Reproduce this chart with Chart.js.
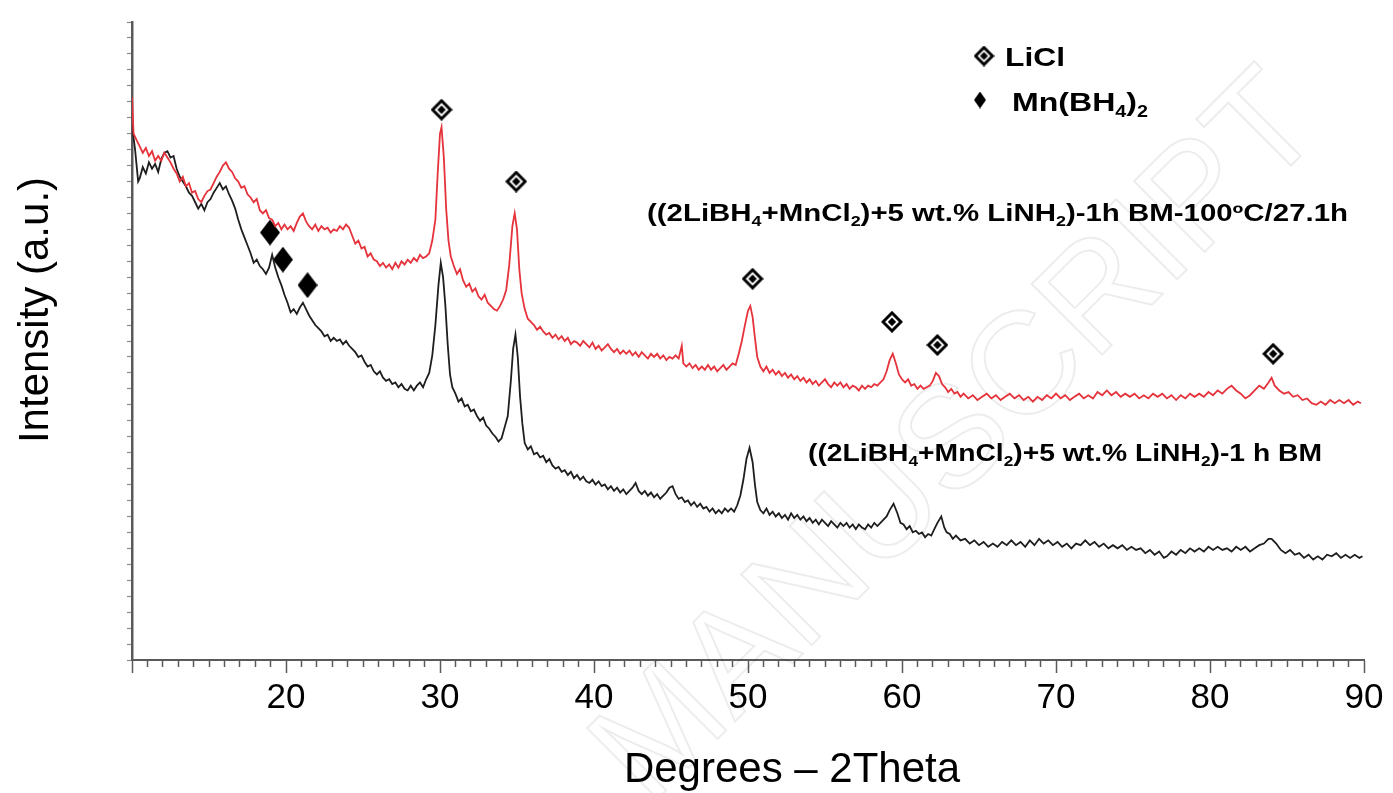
<!DOCTYPE html>
<html>
<head>
<meta charset="utf-8">
<script src="https://cdn.jsdelivr.net/npm/chart.js@4.4.0/dist/chart.umd.min.js"></script>
<style>
  html, body { margin: 0; padding: 0; background: #fff; }
  #wrap { width: 1393px; height: 793px; }
</style>
</head>
<body>
<div id="wrap"><canvas id="xrdChart" width="1393" height="793"></canvas></div>
<script>
// ((2LiBH4+MnCl2)+5 wt.% LiNH2)-1h BM-100ºC/27.1h  (red, upper)
const redTheta = [
  10.0, 10.1, 10.3, 10.5, 10.7, 10.9, 11.1, 11.3, 11.5, 11.7,
  11.9, 12.1, 12.3, 12.5, 12.7, 12.9, 13.1, 13.3, 13.5, 13.7,
  13.9, 14.1, 14.3, 14.5, 14.7, 14.9, 15.1, 15.3, 15.5, 15.7,
  15.9, 16.1, 16.3, 16.5, 16.7, 16.9, 17.1, 17.3, 17.5, 17.7,
  17.9, 18.1, 18.3, 18.5, 18.7, 18.9, 19.1, 19.3, 19.5, 19.7,
  19.9, 20.1, 20.3, 20.5, 20.7, 20.9, 21.1, 21.3, 21.5, 21.7,
  21.9, 22.1, 22.3, 22.5, 22.7, 22.9, 23.1, 23.3, 23.5, 23.7,
  23.9, 24.1, 24.3, 24.5, 24.7, 24.9, 25.1, 25.3, 25.5, 25.7,
  25.9, 26.1, 26.3, 26.5, 26.7, 26.9, 27.1, 27.3, 27.5, 27.7,
  27.9, 28.1, 28.3, 28.5, 28.7, 28.9, 29.1, 29.3, 29.5, 29.7,
  29.85, 30.0, 30.1, 30.25, 30.4, 30.55, 30.7, 30.9, 31.1, 31.3,
  31.5, 31.7, 31.9, 32.1, 32.3, 32.5, 32.7, 32.9, 33.1, 33.3,
  33.5, 33.7, 33.9, 34.1, 34.3, 34.5, 34.7, 34.85, 35.0, 35.15,
  35.3, 35.5, 35.7, 35.9, 36.1, 36.3, 36.5, 36.7, 36.9, 37.1,
  37.3, 37.5, 37.7, 37.9, 38.1, 38.3, 38.5, 38.7, 38.9, 39.1,
  39.3, 39.5, 39.7, 39.9, 40.1, 40.3, 40.5, 40.7, 40.9, 41.1,
  41.3, 41.5, 41.7, 41.9, 42.1, 42.3, 42.5, 42.7, 42.9, 43.1,
  43.3, 43.5, 43.7, 43.9, 44.1, 44.3, 44.5, 44.7, 44.9, 45.1,
  45.3, 45.5, 45.7, 45.8, 46.0, 46.2, 46.4, 46.6, 46.8, 47.0,
  47.2, 47.4, 47.6, 47.8, 48.0, 48.2, 48.4, 48.6, 48.8, 49.0,
  49.2, 49.4, 49.6, 49.8, 50.0, 50.15, 50.3, 50.45, 50.6, 50.8,
  51.0, 51.2, 51.4, 51.6, 51.8, 52.0, 52.2, 52.4, 52.6, 52.8,
  53.0, 53.2, 53.4, 53.6, 53.8, 54.0, 54.2, 54.4, 54.6, 54.8,
  55.0, 55.2, 55.4, 55.6, 55.8, 56.0, 56.2, 56.4, 56.6, 56.8,
  57.0, 57.2, 57.4, 57.6, 57.8, 58.0, 58.2, 58.4, 58.6, 58.8,
  59.0, 59.2, 59.4, 59.6, 59.8, 60.0, 60.2, 60.4, 60.6, 60.8,
  61.0, 61.2, 61.4, 61.6, 61.8, 62.0, 62.2, 62.4, 62.6, 62.8,
  63.0, 63.2, 63.4, 63.6, 63.8, 64.0, 64.3, 64.6, 64.9, 65.2,
  65.5, 65.8, 66.1, 66.4, 66.7, 67.0, 67.3, 67.6, 67.9, 68.2,
  68.5, 68.8, 69.1, 69.4, 69.7, 70.0, 70.3, 70.6, 70.9, 71.2,
  71.5, 71.8, 72.1, 72.4, 72.7, 73.0, 73.3, 73.6, 73.9, 74.2,
  74.5, 74.8, 75.1, 75.4, 75.7, 76.0, 76.3, 76.6, 76.9, 77.2,
  77.5, 77.8, 78.1, 78.4, 78.7, 79.0, 79.3, 79.6, 79.9, 80.2,
  80.5, 80.8, 81.1, 81.4, 81.7, 82.0, 82.3, 82.6, 82.9, 83.2,
  83.5, 83.8, 84.0, 84.2, 84.5, 84.8, 85.1, 85.4, 85.7, 86.0,
  86.3, 86.6, 86.9, 87.2, 87.5, 87.8, 88.1, 88.4, 88.7, 89.0,
  89.3, 89.6, 89.8
];
const redIntensity = [
  35.3, 33.0, 32.6, 32.2, 31.8, 32.1, 31.6, 31.9, 31.3, 31.6,
  31.3, 31.8, 31.5, 31.2, 30.8, 30.5, 30.0, 30.3, 29.7, 29.9,
  29.3, 29.4, 28.9, 28.7, 29.1, 29.4, 29.5, 29.9, 30.3, 30.6,
  31.0, 31.2, 30.8, 30.6, 30.2, 30.0, 29.6, 29.7, 29.2, 29.0,
  28.7, 28.9, 28.2, 28.0, 28.2, 27.7, 27.6, 27.2, 27.4, 27.0,
  27.3, 27.0, 27.2, 26.9, 27.4, 27.8, 28.0, 27.5, 27.2, 27.0,
  27.3, 26.9, 27.2, 27.0, 27.1, 26.8, 27.0, 26.9, 27.2, 27.0,
  27.3, 27.1, 26.6, 26.1, 26.3, 25.8, 25.9, 25.3, 25.5, 25.1,
  25.0, 24.7, 24.9, 24.6, 24.8, 24.5, 24.9, 24.6, 25.0, 24.8,
  25.1, 24.9, 25.2, 25.0, 25.4, 25.2, 25.3, 25.5, 26.3, 27.6,
  30.5, 33.0, 33.4, 31.5, 28.3, 26.3, 25.3, 24.7, 24.2, 24.5,
  23.8, 23.4, 23.6, 23.1, 23.3, 22.8, 22.6, 22.9, 22.4, 22.2,
  22.0, 21.9, 22.2, 22.6, 23.2, 24.8, 27.2, 28.0, 27.0, 24.5,
  23.0, 22.0, 21.4, 21.2, 21.0, 20.7, 20.9, 20.6, 20.4, 20.5,
  20.2, 20.4, 20.1, 20.3, 20.0, 20.2, 19.8, 20.0, 19.9, 19.7,
  20.0, 19.8, 19.6, 19.9, 19.5, 19.7, 19.4, 19.6, 19.8, 19.5,
  19.3, 19.5, 19.2, 19.4, 19.2, 19.4, 19.1, 19.3, 19.0, 19.3,
  19.1, 18.9, 19.2, 19.0, 19.2, 18.9, 19.1, 18.8, 19.0, 18.9,
  19.1, 18.9, 19.7, 18.6, 18.4, 18.6, 18.3, 18.5, 18.2, 18.4,
  18.2, 18.5, 18.2, 18.4, 18.1, 18.3, 18.5, 18.2, 18.4, 18.6,
  18.5, 19.2, 20.0, 21.0, 21.9, 22.2, 21.5, 20.2, 19.0, 18.4,
  18.1, 18.4, 18.0, 18.2, 17.9, 18.1, 17.8, 18.0, 17.7, 17.9,
  17.6, 17.8, 17.5, 17.7, 17.4, 17.6, 17.3, 17.5, 17.2, 17.4,
  17.6, 17.3, 17.1, 17.4, 17.2, 17.4, 17.1, 17.3, 17.0, 17.2,
  17.1, 16.9, 17.2, 17.0, 17.2, 17.1, 17.3, 17.2, 17.4, 17.6,
  18.1, 18.8, 19.2, 18.6, 17.9, 17.6, 17.4, 17.6, 17.2, 17.3,
  17.0, 17.2, 17.0, 17.1, 17.2, 17.5, 18.0, 17.8, 17.3, 17.1,
  16.8, 17.0, 16.7, 16.8, 16.5, 16.7, 16.4, 16.6, 16.3, 16.5,
  16.7, 16.4, 16.6, 16.3, 16.5, 16.7, 16.4, 16.6, 16.3, 16.5,
  16.2, 16.5, 16.3, 16.6, 16.4, 16.7, 16.4, 16.6, 16.3, 16.5,
  16.7, 16.4, 16.6, 16.4, 16.8, 16.6, 16.9, 16.6, 16.8, 16.5,
  16.7, 16.5, 16.7, 16.4, 16.6, 16.4, 16.7, 16.5, 16.7, 16.4,
  16.6, 16.3, 16.6, 16.4, 16.7, 16.5, 16.7, 16.5, 16.8, 16.6,
  16.9, 16.7, 17.0, 17.2, 16.9, 16.7, 16.4, 16.6, 16.9, 17.2,
  17.0, 17.4, 17.7, 17.2, 16.9, 16.7, 16.8, 16.5, 16.6, 16.3,
  16.4, 16.1, 16.0, 16.2, 16.0, 16.3, 16.1, 16.3, 16.1, 16.3,
  16.0, 16.2, 16.1
];

// ((2LiBH4+MnCl2)+5 wt.% LiNH2)-1 h BM  (black, lower)
const blackTheta = [
  10.0, 10.2, 10.4, 10.5, 10.7, 10.9, 11.1, 11.3, 11.5, 11.7,
  11.9, 12.1, 12.3, 12.5, 12.7, 12.9, 13.1, 13.3, 13.5, 13.7,
  13.9, 14.1, 14.3, 14.5, 14.7, 14.9, 15.1, 15.3, 15.5, 15.7,
  15.9, 16.1, 16.3, 16.5, 16.7, 16.9, 17.1, 17.3, 17.5, 17.7,
  17.9, 18.1, 18.3, 18.5, 18.7, 18.9, 19.1, 19.3, 19.5, 19.7,
  19.9, 20.1, 20.3, 20.5, 20.7, 20.9, 21.1, 21.3, 21.5, 21.7,
  21.9, 22.1, 22.3, 22.5, 22.7, 22.9, 23.1, 23.3, 23.5, 23.7,
  23.9, 24.1, 24.3, 24.5, 24.7, 24.9, 25.1, 25.3, 25.5, 25.7,
  25.9, 26.1, 26.3, 26.5, 26.7, 26.9, 27.1, 27.3, 27.5, 27.7,
  27.9, 28.1, 28.3, 28.5, 28.7, 28.9, 29.1, 29.3, 29.5, 29.7,
  29.9, 30.05, 30.2, 30.35, 30.5, 30.65, 30.8, 31.0, 31.2, 31.4,
  31.6, 31.8, 32.0, 32.2, 32.4, 32.6, 32.8, 33.0, 33.2, 33.4,
  33.6, 33.8, 34.0, 34.2, 34.4, 34.6, 34.75, 34.9, 35.05, 35.2,
  35.35, 35.5, 35.7, 35.9, 36.1, 36.3, 36.5, 36.7, 36.9, 37.1,
  37.3, 37.5, 37.7, 37.9, 38.1, 38.3, 38.5, 38.7, 38.9, 39.1,
  39.3, 39.5, 39.7, 39.9, 40.1, 40.3, 40.5, 40.7, 40.9, 41.1,
  41.3, 41.5, 41.7, 41.9, 42.1, 42.3, 42.5, 42.7, 42.9, 43.1,
  43.3, 43.5, 43.7, 43.9, 44.1, 44.3, 44.5, 44.7, 44.9, 45.1,
  45.3, 45.5, 45.7, 45.9, 46.1, 46.3, 46.5, 46.7, 46.9, 47.1,
  47.3, 47.5, 47.7, 47.9, 48.1, 48.3, 48.5, 48.7, 48.9, 49.1,
  49.3, 49.5, 49.7, 49.9, 50.1, 50.3, 50.45, 50.6, 50.8, 51.0,
  51.2, 51.4, 51.6, 51.8, 52.0, 52.2, 52.4, 52.6, 52.8, 53.0,
  53.2, 53.4, 53.6, 53.8, 54.0, 54.2, 54.4, 54.6, 54.8, 55.0,
  55.2, 55.4, 55.6, 55.8, 56.0, 56.2, 56.4, 56.6, 56.8, 57.0,
  57.2, 57.4, 57.6, 57.8, 58.0, 58.2, 58.4, 58.6, 58.8, 59.0,
  59.2, 59.45, 59.7, 59.9, 60.1, 60.3, 60.5, 60.7, 60.9, 61.1,
  61.3, 61.5, 61.7, 61.9, 62.1, 62.3, 62.55, 62.75, 62.9, 63.1,
  63.3, 63.5, 63.8, 64.1, 64.4, 64.7, 65.0, 65.3, 65.6, 65.9,
  66.2, 66.5, 66.8, 67.1, 67.4, 67.7, 68.0, 68.3, 68.6, 68.9,
  69.2, 69.5, 69.8, 70.1, 70.4, 70.7, 71.0, 71.3, 71.6, 71.9,
  72.2, 72.5, 72.8, 73.1, 73.4, 73.7, 74.0, 74.3, 74.6, 74.9,
  75.2, 75.5, 75.8, 76.1, 76.4, 76.7, 77.0, 77.2, 77.5, 77.8,
  78.1, 78.4, 78.7, 79.0, 79.3, 79.6, 79.9, 80.2, 80.5, 80.8,
  81.1, 81.4, 81.7, 82.0, 82.3, 82.6, 82.9, 83.2, 83.5, 83.8,
  84.0, 84.3, 84.6, 84.9, 85.2, 85.5, 85.8, 86.1, 86.4, 86.7,
  87.0, 87.3, 87.6, 87.9, 88.2, 88.5, 88.8, 89.1, 89.4, 89.7,
  89.9
];
const blackIntensity = [
  33.5, 32.0, 30.0, 30.2, 30.9, 30.5, 31.2, 30.8, 31.1, 30.6,
  31.4, 31.8, 31.9, 31.5, 31.6, 30.8, 30.3, 30.0, 29.7, 29.3,
  29.1, 28.7, 28.3, 28.6, 28.2, 28.7, 28.9, 29.3, 29.6, 29.9,
  29.5, 29.7, 29.2, 28.8, 28.3, 27.6, 27.0, 26.5, 26.0, 25.5,
  24.9, 25.1, 24.7, 24.5, 24.2, 24.6, 25.4, 24.6, 24.0, 23.5,
  22.9, 22.4, 21.8, 22.0, 21.7, 22.1, 22.4, 22.0, 21.6, 21.3,
  21.0, 20.8, 20.6, 20.3, 20.4, 20.0, 20.2, 20.0, 20.1, 19.8,
  20.0, 19.7, 19.5, 19.3, 19.0, 19.1, 18.7, 18.4, 18.5, 18.1,
  17.9, 18.1, 17.7, 17.5, 17.6, 17.3, 17.4, 17.1, 17.3, 17.0,
  16.9, 17.2, 16.9, 17.2, 17.4, 17.1, 17.6, 18.0, 19.1, 21.0,
  23.5, 24.9, 24.0, 22.2, 19.8, 17.9, 17.1, 16.7, 16.2, 16.4,
  15.9, 16.0, 15.6, 15.7, 15.3, 15.0, 15.2, 14.7, 14.5, 14.2,
  14.0, 13.7, 13.9, 14.6, 15.3, 17.5, 19.5, 20.4, 19.0, 16.5,
  14.8, 13.6, 13.2, 13.4, 12.9, 13.0, 12.7, 12.8, 12.4, 12.6,
  12.2, 12.0, 12.1, 11.8, 11.9, 11.6, 11.8, 11.4, 11.6, 11.3,
  11.5, 11.2, 11.1, 11.3, 11.0, 11.2, 10.9, 11.0, 10.7, 10.9,
  10.6, 10.8, 10.5, 10.7, 10.4, 10.6, 10.8, 11.1, 10.6, 10.4,
  10.6, 10.3, 10.5, 10.2, 10.4, 10.1, 10.3, 10.5, 10.8, 10.9,
  10.4, 10.1, 10.2, 9.9, 10.0, 9.7, 9.9, 9.6, 9.8, 9.5,
  9.6, 9.3, 9.5, 9.2, 9.4, 9.2, 9.5, 9.3, 9.5, 9.3,
  9.7, 10.3, 11.3, 12.6, 13.3, 12.4, 11.0, 9.9, 9.4, 9.2,
  9.5, 9.1, 9.3, 9.0, 9.2, 8.9, 9.1, 8.8, 9.2, 8.9,
  9.1, 8.8, 9.0, 8.7, 8.9, 8.6, 8.8, 8.5, 8.8, 8.6,
  8.4, 8.7, 8.5, 8.3, 8.6, 8.4, 8.6, 8.3, 8.5, 8.2,
  8.5, 8.3, 8.2, 8.5, 8.3, 8.6, 8.4, 8.6, 8.8, 9.0,
  9.4, 9.8, 9.2, 8.6, 8.5, 8.2, 8.4, 8.0, 8.1, 7.9,
  8.0, 7.7, 7.9, 7.8, 8.2, 8.6, 9.0, 8.3, 8.0, 7.9,
  7.6, 7.8, 7.5, 7.6, 7.3, 7.5, 7.2, 7.4, 7.1, 7.3,
  7.1, 7.4, 7.2, 7.5, 7.2, 7.4, 7.1, 7.5, 7.2, 7.6,
  7.3, 7.5, 7.2, 7.4, 7.1, 7.3, 7.0, 7.3, 7.2, 7.5,
  7.2, 7.4, 7.1, 7.3, 7.0, 7.2, 7.0, 7.2, 6.9, 7.1,
  6.9, 7.0, 6.7, 6.9, 6.6, 6.8, 6.4, 6.5, 6.8, 6.6,
  6.9, 6.7, 7.0, 6.8, 7.0, 6.8, 7.1, 6.9, 7.1, 6.9,
  7.0, 6.8, 7.1, 6.9, 7.1, 6.8, 7.0, 7.2, 7.3, 7.6,
  7.6, 7.3, 6.9, 6.7, 6.9, 6.6, 6.7, 6.4, 6.6, 6.3,
  6.5, 6.3, 6.6, 6.5, 6.7, 6.4, 6.6, 6.4, 6.6, 6.4,
  6.5
];

// phase markers
const liclTheta = [30.1, 34.95, 50.3, 59.35, 62.3, 84.1];
const liclLevel = [34.5, 30.0, 23.9, 21.2, 19.75, 19.2];
const mnTheta = [18.96, 19.8, 21.4];
const mnLevel = [26.8, 25.1, 23.5];

const xTickLabels = [20, 30, 40, 50, 60, 70, 80, 90];

const FONT = '"Liberation Sans", Arial, Helvetica, sans-serif';

function toPoints(xs, ys) {
    return xs.map((x, i) => ({ x: x, y: ys[i] }));
}

function makeLiclMarker(size, lw) {
    const c = document.createElement('canvas');
    c.width = size; c.height = size;
    const g = c.getContext('2d');
    const m = size / 2, e = lw / 2 + 0.5;
    g.strokeStyle = '#000';
    g.lineWidth = lw;
    g.beginPath();
    g.moveTo(m, e); g.lineTo(size - e, m); g.lineTo(m, size - e); g.lineTo(e, m);
    g.closePath();
    g.stroke();
    const r = size * 0.19;
    g.fillStyle = '#000';
    g.beginPath();
    g.moveTo(m, m - r); g.lineTo(m + r, m); g.lineTo(m, m + r); g.lineTo(m - r, m);
    g.closePath();
    g.fill();
    return c;
}

function makeDiamond(w, h) {
    const c = document.createElement('canvas');
    c.width = w; c.height = h;
    const g = c.getContext('2d');
    g.fillStyle = '#000';
    g.beginPath();
    g.moveTo(w / 2, 0); g.lineTo(w, h / 2); g.lineTo(w / 2, h); g.lineTo(0, h / 2);
    g.closePath();
    g.fill();
    return c;
}

const liclIcon = makeLiclMarker(22, 3);
const mnIcon = makeDiamond(20, 26);
const liclLegendIcon = makeLiclMarker(21, 3);
const mnLegendIcon = makeDiamond(12, 17);

// text with subscripts, squeezed to a given width
function drawRich(ctx, parts, x, y, size, width) {
    const main = 'bold ' + size + 'px ' + FONT;
    const sub = 'bold ' + Math.round(size * 0.62) + 'px ' + FONT;
    let total = 0;
    parts.forEach(p => {
        ctx.font = Array.isArray(p) ? sub : main;
        total += ctx.measureText(Array.isArray(p) ? p[0] : p).width;
    });
    ctx.save();
    ctx.translate(x, y);
    ctx.scale(width ? width / total : 1, 1);
    let cx = 0;
    parts.forEach(p => {
        const isSub = Array.isArray(p);
        const t = isSub ? p[0] : p;
        ctx.font = isSub ? sub : main;
        ctx.fillText(t, cx, isSub ? size * 0.22 : 0);
        cx += ctx.measureText(t).width;
    });
    ctx.restore();
}

const watermark = {
    id: 'watermark',
    beforeDatasetsDraw(chart) {
        const ctx = chart.ctx;
        ctx.save();
        ctx.translate(960, 440);
        ctx.rotate(-Math.PI / 4);
        ctx.font = '145px ' + FONT;
        ctx.textAlign = 'center';
        ctx.textBaseline = 'middle';
        ctx.strokeStyle = 'rgba(0,0,0,0.075)';
        ctx.lineWidth = 2;
        ctx.strokeText('MANUSCRIPT', 0, 0);
        ctx.restore();
    }
};

const annotations = {
    id: 'annotations',
    afterDraw(chart) {
        const ctx = chart.ctx;
        ctx.save();
        ctx.fillStyle = '#000';
        ctx.textBaseline = 'alphabetic';

        // axis titles
        ctx.font = '42px ' + FONT;
        ctx.textAlign = 'center';
        ctx.fillText('Degrees \u2013 2Theta', 792, 782);
        ctx.save();
        ctx.translate(48, 310);
        ctx.rotate(-Math.PI / 2);
        ctx.fillText('Intensity (a.u.)', 0, 0);
        ctx.restore();

        // legend
        ctx.textAlign = 'left';
        ctx.drawImage(liclLegendIcon, 984 - 10.5, 56 - 10.5);
        ctx.drawImage(mnLegendIcon, 980 - 6, 100 - 8.5);
        drawRich(ctx, ['LiCl'], 1005, 66, 25, 60);
        drawRich(ctx, ['Mn(BH', ['4'], ')', ['2']], 1012, 111, 26, 136);

        // series labels
        drawRich(ctx, ['((2LiBH', ['4'], '+MnCl', ['2'], ')+5 wt.% LiNH', ['2'], ')-1h BM-100\u00baC/27.1h'],
            647, 221, 23, 701);
        drawRich(ctx, ['((2LiBH', ['4'], '+MnCl', ['2'], ')+5 wt.% LiNH', ['2'], ')-1 h BM'],
            808, 461, 23, 514);
        ctx.restore();
    }
};

new Chart(document.getElementById('xrdChart'), {
    type: 'scatter',
    data: {
        datasets: [{
            label: '1h BM-100ºC/27.1h',
            data: toPoints(redTheta, redIntensity),
            showLine: true,
            borderColor: '#e5323b',
            borderWidth: 1.8,
            pointRadius: 0,
            tension: 0
        }, {
            label: '1 h BM',
            data: toPoints(blackTheta, blackIntensity),
            showLine: true,
            borderColor: '#1e1e1e',
            borderWidth: 1.8,
            pointRadius: 0,
            tension: 0
        }, {
            label: 'LiCl',
            data: toPoints(liclTheta, liclLevel),
            pointStyle: liclIcon,
            pointRadius: 10
        }, {
            label: 'Mn(BH4)2',
            data: toPoints(mnTheta, mnLevel),
            pointStyle: mnIcon,
            pointRadius: 10
        }]
    },
    options: {
        responsive: false,
        animation: false,
        events: [],
        layout: { padding: { left: 0, right: 29, top: 22, bottom: 0 } },
        scales: {
            x: {
                type: 'linear',
                min: 10,
                max: 90,
                afterFit: scale => { scale.height = 133; },
                border: { color: '#5a5a5a', width: 2 },
                grid: {
                    drawOnChartArea: false,
                    tickLength: 13,
                    tickColor: '#5a5a5a',
                    tickWidth: 1.5,
                    tickBorderDash: ctx => (ctx.tick && ctx.tick.value % 10 === 0) ? [] : [6, 40]
                },
                ticks: {
                    stepSize: 1,
                    autoSkip: false,
                    maxRotation: 0,
                    padding: 4,
                    color: '#000',
                    font: { family: FONT, size: 35 },
                    callback: v => xTickLabels.includes(v) ? String(v) : ''
                }
            },
            y: {
                min: 0,
                max: 40,
                afterFit: scale => { scale.width = 132; },
                border: { color: '#5a5a5a', width: 2.5 },
                grid: {
                    drawOnChartArea: false,
                    tickLength: 5,
                    tickColor: '#8a8a8a',
                    tickWidth: 1.2
                },
                ticks: { display: false, stepSize: 1 }
            }
        },
        plugins: {
            legend: { display: false },
            tooltip: { enabled: false }
        }
    },
    plugins: [watermark, annotations]
});
</script>
</body>
</html>
